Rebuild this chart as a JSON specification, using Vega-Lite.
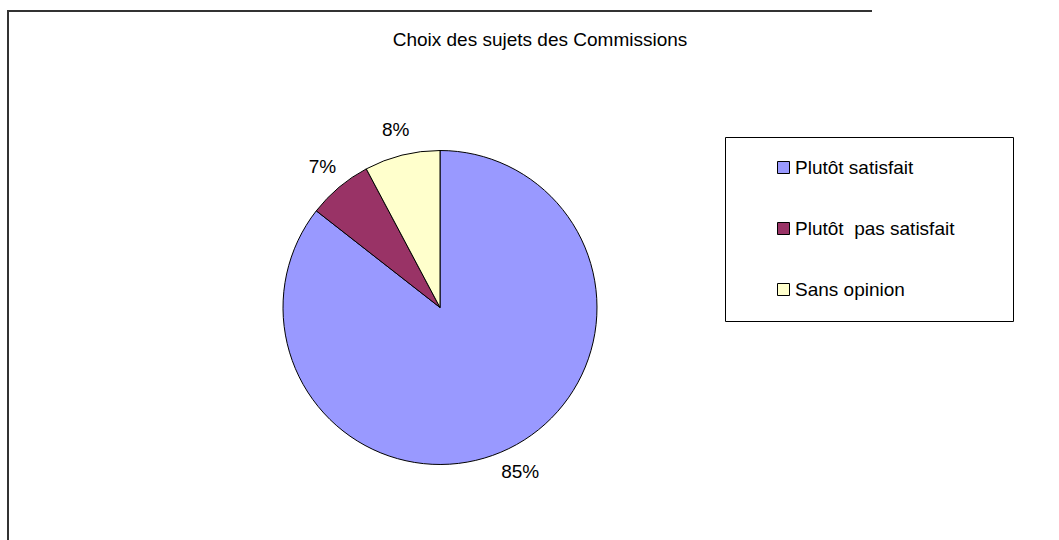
{
  "$schema": "https://vega.github.io/schema/vega-lite/v6.json",
  "autosize": "none",
  "padding": {"left": 8, "top": 11, "right": 187, "bottom": 0},
  "width": 864,
  "height": 593,
  "background": "white",
  "view": {"stroke": "#333", "strokeWidth": 2, "strokeDash": [864, 593, 1457]},
  "title": {
    "text": "Choix des sujets des Commissions",
    "anchor": "middle",
    "frame": "group",
    "font": "Liberation Sans",
    "fontSize": 19,
    "fontWeight": "normal",
    "color": "black",
    "baseline": "alphabetic",
    "offset": 0,
    "dx": 100,
    "dy": 54
  },
  "config": {
    "view": {"stroke": "#333", "strokeWidth": 2, "strokeDash": [864, 593, 1457]},
    "legend": {
      "orient": "none",
      "legendX": 717,
      "legendY": 126,
      "padding": 21,
      "symbolOffset": 28,
      "strokeColor": "black",
      "fillColor": "white",
      "symbolType": "square",
      "symbolSize": 144,
      "symbolStrokeColor": "black",
      "symbolStrokeWidth": 1,
      "labelFont": "Liberation Sans",
      "labelFontSize": 19,
      "labelColor": "black",
      "labelOffset": 2,
      "rowPadding": 41,
      "labelLimit": 400
    }
  },
  "data": {
    "values": [
      {"category": "Plutôt satisfait", "count": 77, "label": "85%"},
      {"category": "Plutôt  pas satisfait", "count": 6, "label": "7%"},
      {"category": "Sans opinion", "count": 7, "label": "8%"}
    ]
  },
  "transform": [
    {"calculate": "indexof(['Plutôt satisfait', 'Plutôt  pas satisfait', 'Sans opinion'], datum.category)", "as": "ord"}
  ],
  "encoding": {
    "theta": {"field": "count", "type": "quantitative", "stack": true},
    "order": {"field": "ord", "type": "quantitative"}
  },
  "layer": [
    {
      "mark": {"type": "arc", "outerRadius": 157, "stroke": "black", "strokeWidth": 1},
      "encoding": {
        "color": {
          "field": "category",
          "type": "nominal",
          "scale": {
            "domain": ["Plutôt satisfait", "Plutôt  pas satisfait", "Sans opinion"],
            "range": ["#9999FF", "#993366", "#FFFFCC"]
          },
          "legend": {"title": null, "labelExpr": "replace(datum.label, '  ', '\u00a0 ') + '\u00a0\u00a0\u00a0\u00a0\u00a0\u00a0\u00a0\u200b'"}
        }
      }
    },
    {
      "mark": {"type": "text", "radius": 183, "font": "Liberation Sans", "fontSize": 19, "color": "black"},
      "encoding": {
        "text": {"field": "label", "type": "nominal"}
      }
    }
  ]
}
